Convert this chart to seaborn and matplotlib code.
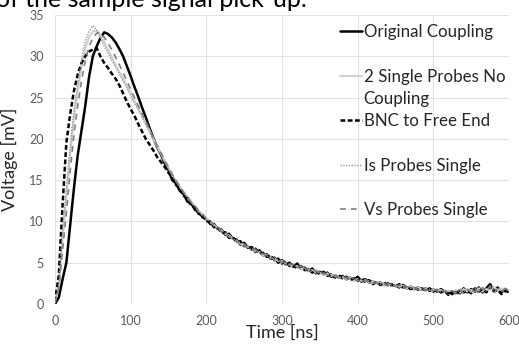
import matplotlib
matplotlib.use("Agg")
import matplotlib.pyplot as plt
from matplotlib.lines import Line2D
import seaborn as sns

# sample times [ns]
time_ns = list(range(0, 601, 5))

original_coupling = [
    0.0, 0.8, 3.0, 5.0, 9.5, 14.0, 18.0, 21.0, 24.0, 27.5,
    30.0, 31.2, 32.2, 32.9, 32.7, 32.3, 31.7, 30.9, 30.0, 28.8,
    27.6, 26.3, 25.1, 23.8, 22.6, 21.3, 20.1, 19.0, 18.1, 17.0,
    16.2, 15.0, 14.6, 13.7, 13.3, 12.4, 12.2, 11.4, 11.2, 10.5,
    10.3, 9.7, 9.7, 9.1, 9.0, 8.4, 8.5, 7.9, 7.8, 7.2,
    7.4, 6.8, 6.9, 6.3, 6.5, 5.9, 6.0, 5.5, 5.6, 5.0,
    5.3, 4.8, 5.0, 4.5, 4.9, 4.3, 4.4, 4.0, 4.3, 3.7,
    3.9, 3.6, 3.8, 3.3, 3.5, 3.2, 3.4, 3.0, 3.2, 2.9,
    3.3, 2.7, 3.0, 2.6, 2.7, 2.5, 2.6, 2.3, 2.5, 2.2,
    2.3, 2.0, 2.3, 1.9, 2.1, 1.8, 2.0, 1.7, 1.9, 1.6,
    1.8, 1.5, 1.8, 1.5, 1.4, 1.2, 1.6, 1.3, 1.9, 1.4,
    1.8, 1.5, 2.0, 1.4, 1.9, 2.4, 1.6, 2.0, 1.4, 1.8,
    1.5,
]

two_single_probes = [
    0.2, 2.2, 8.0, 13.0, 18.0, 22.5, 25.8, 28.8, 31.0, 32.3,
    33.0, 33.1, 32.6, 31.7, 30.8, 29.9, 29.0, 28.1, 27.3, 26.4,
    25.5, 24.6, 23.7, 22.8, 21.9, 21.0, 20.0, 19.1, 18.2, 17.3,
    16.5, 15.6, 15.0, 14.2, 13.6, 13.0, 12.4, 11.9, 11.3, 10.8,
    10.4, 9.9, 9.6, 9.2, 8.9, 8.5, 8.3, 7.9, 7.7, 7.3,
    7.2, 6.9, 6.7, 6.4, 6.3, 5.9, 5.9, 5.6, 5.5, 5.2,
    5.2, 4.9, 4.8, 4.6, 4.6, 4.3, 4.3, 4.0, 4.1, 3.8,
    3.8, 3.6, 3.7, 3.4, 3.5, 3.2, 3.3, 3.0, 3.2, 2.9,
    3.0, 2.8, 2.9, 2.6, 2.7, 2.4, 2.6, 2.3, 2.4, 2.2,
    2.3, 2.1, 2.2, 1.9, 2.1, 1.8, 2.0, 1.7, 1.9, 1.7,
    1.8, 1.6, 1.7, 1.4, 1.6, 1.5, 1.7, 1.4, 1.8, 1.5,
    1.7, 1.6, 1.9, 1.5, 1.8, 1.7, 2.1, 1.6, 1.9, 1.5,
    1.7,
]

bnc_free_end = [
    0.3, 3.5, 12.0, 19.5, 23.0, 25.8, 27.8, 29.2, 30.0, 30.6,
    30.8, 31.0, 30.0, 29.2, 28.6, 27.9, 27.3, 26.5, 25.5, 24.5,
    23.6, 22.8, 21.8, 20.9, 20.0, 19.3, 18.6, 17.8, 17.2, 16.6,
    15.9, 15.3, 14.4, 14.0, 13.1, 12.8, 11.9, 11.7, 10.9, 10.8,
    10.0, 10.0, 9.3, 9.3, 8.6, 8.7, 8.0, 8.1, 7.5, 7.6,
    7.0, 7.1, 6.6, 6.7, 6.1, 6.2, 5.7, 5.9, 5.3, 5.5,
    4.9, 5.2, 4.6, 4.7, 4.3, 4.6, 4.1, 4.2, 3.8, 4.0,
    3.6, 3.9, 3.4, 3.6, 3.2, 3.5, 3.1, 3.3, 2.9, 3.1,
    2.8, 3.2, 2.6, 2.9, 2.4, 2.7, 2.3, 2.6, 2.2, 2.4,
    2.1, 2.4, 2.0, 2.1, 1.8, 2.0, 1.7, 1.9, 1.6, 1.9,
    1.5, 1.7, 1.4, 1.6, 1.1, 1.5, 1.2, 1.7, 1.4, 1.6,
    1.3, 1.9, 1.5, 1.8, 1.4, 2.1, 1.5, 1.7, 1.2, 1.6,
    1.4,
]

is_probes_single = [
    0.2, 2.5, 9.0, 14.0, 19.0, 23.5, 26.5, 29.5, 31.8, 33.0,
    33.7, 33.2, 32.2, 31.2, 30.4, 29.5, 28.7, 27.9, 27.0, 26.2,
    25.2, 24.3, 23.6, 22.6, 21.7, 20.8, 19.8, 18.9, 18.0, 17.2,
    16.4, 15.5, 14.9, 14.1, 13.5, 12.9, 12.3, 11.8, 11.1, 10.9,
    10.2, 10.1, 9.4, 9.3, 8.8, 8.6, 8.2, 7.9, 7.6, 7.4,
    7.1, 7.0, 6.5, 6.6, 6.2, 6.0, 5.8, 5.7, 5.3, 5.4,
    5.0, 5.1, 4.7, 4.8, 4.4, 4.5, 4.2, 4.1, 3.9, 4.1,
    3.7, 3.8, 3.5, 3.6, 3.3, 3.4, 3.1, 3.3, 3.0, 3.1,
    2.9, 3.0, 2.7, 2.8, 2.5, 2.7, 2.4, 2.5, 2.3, 2.4,
    2.2, 2.3, 2.0, 2.2, 1.9, 2.0, 1.8, 1.9, 1.7, 1.8,
    1.7, 1.6, 1.5, 1.7, 1.5, 1.6, 1.4, 1.8, 1.5, 1.7,
    1.6, 1.8, 1.5, 1.9, 1.6, 2.0, 1.7, 1.9, 1.5, 1.8,
    1.6,
]

vs_probes_single = [
    0.2, 1.8, 6.5, 11.0, 16.0, 20.5, 24.0, 27.0, 29.5, 31.2,
    32.2, 32.8, 32.9, 32.3, 31.6, 30.8, 29.9, 29.0, 28.0, 27.0,
    26.0, 25.0, 24.0, 23.1, 22.1, 21.1, 20.1, 19.2, 18.3, 17.4,
    16.6, 15.7, 14.9, 14.3, 13.5, 13.0, 12.3, 11.9, 11.2, 10.9,
    10.3, 10.0, 9.5, 9.3, 8.7, 8.6, 8.1, 8.0, 7.5, 7.5,
    7.0, 7.0, 6.5, 6.6, 6.1, 6.1, 5.7, 5.8, 5.3, 5.4,
    5.0, 5.1, 4.7, 4.9, 4.4, 4.6, 4.1, 4.3, 3.9, 4.0,
    3.7, 3.8, 3.5, 3.6, 3.3, 3.3, 3.1, 3.2, 2.9, 3.0,
    2.8, 3.0, 2.7, 2.8, 2.5, 2.6, 2.4, 2.5, 2.2, 2.3,
    2.1, 2.3, 2.0, 2.1, 1.9, 2.0, 1.7, 1.9, 1.6, 1.8,
    1.6, 1.7, 1.4, 1.6, 1.3, 1.6, 1.2, 1.7, 1.3, 1.8,
    1.4, 1.9, 1.3, 2.0, 1.5, 2.2, 1.4, 1.8, 1.5, 1.9,
    1.5,
]

x_ticks = [0, 100, 200, 300, 400, 500, 600]
y_ticks = [0, 5, 10, 15, 20, 25, 30, 35]

sns.set_theme(style="whitegrid")
plt.rcParams['font.family'] = ['Lato', 'DejaVu Sans']

fig = plt.figure(figsize=(5.19, 3.45), dpi=100)
ax = fig.add_axes([55 / 519, 1 - 304 / 345, 454 / 519, 289 / 345])

series = [
    ("Original Coupling", original_coupling, "#000000", 1.8, "-"),
    ("2 Single Probes No Coupling", two_single_probes, "#d0d0d0", 1.5, "-"),
    ("BNC to Free End", bnc_free_end, "#000000", 1.8, (0, (1.9, 1.0))),
    ("Is Probes Single", is_probes_single, "#9a9a9a", 1.0, (0, (1.0, 1.0))),
    ("Vs Probes Single", vs_probes_single, "#808080", 1.2, (0, (3.5, 3.0))),
]

handles = []
for label, vals, color, lw, ls in series:
    sns.lineplot(x=time_ns, y=vals, ax=ax, color=color, linewidth=lw,
                 linestyle=ls, legend=False)
    handles.append(ax.get_lines()[-1])

ax.set_xlim(0, 600)
ax.set_ylim(0, 35)
ax.set_xticks(x_ticks)
ax.set_yticks(y_ticks)
ax.grid(True, color="#e2e2e2", linewidth=0.8)
for s in ax.spines.values():
    s.set_visible(False)
ax.tick_params(axis="both", colors="#595959", labelsize=9, length=0, pad=8)

ax.set_xlabel("Time [ns]", fontsize=13, color="#262626")
ax.set_ylabel("Voltage [mV]", fontsize=13, color="#262626")
ax.xaxis.set_label_coords(0.5, -0.072)
ax.yaxis.set_label_coords(-0.082, 0.5)

blank = Line2D([], [], linestyle="none")
leg_handles = [handles[0], blank, handles[1], blank, handles[2], blank,
               handles[3], blank, handles[4]]
leg_labels = ["Original Coupling", " ", "2 Single Probes No", "Coupling",
              "BNC to Free End", " ", "Is Probes Single", " ",
              "Vs Probes Single"]
leg = ax.legend(leg_handles, leg_labels, loc="upper left",
                bbox_to_anchor=(340 / 519, 1 - 24 / 345),
                bbox_transform=fig.transFigure, frameon=False,
                fontsize=12.2, handlelength=1.3, handletextpad=0.1,
                labelspacing=0.37, borderpad=0, borderaxespad=0)
for t in leg.get_texts():
    t.set_color("#262626")

fig.text(-0.008, 1 - 7 / 345, "of the sample signal pick-up.", fontsize=18,
         va="baseline", ha="left", color="#000000")

fig.savefig("out.png", dpi=100, facecolor="white")
